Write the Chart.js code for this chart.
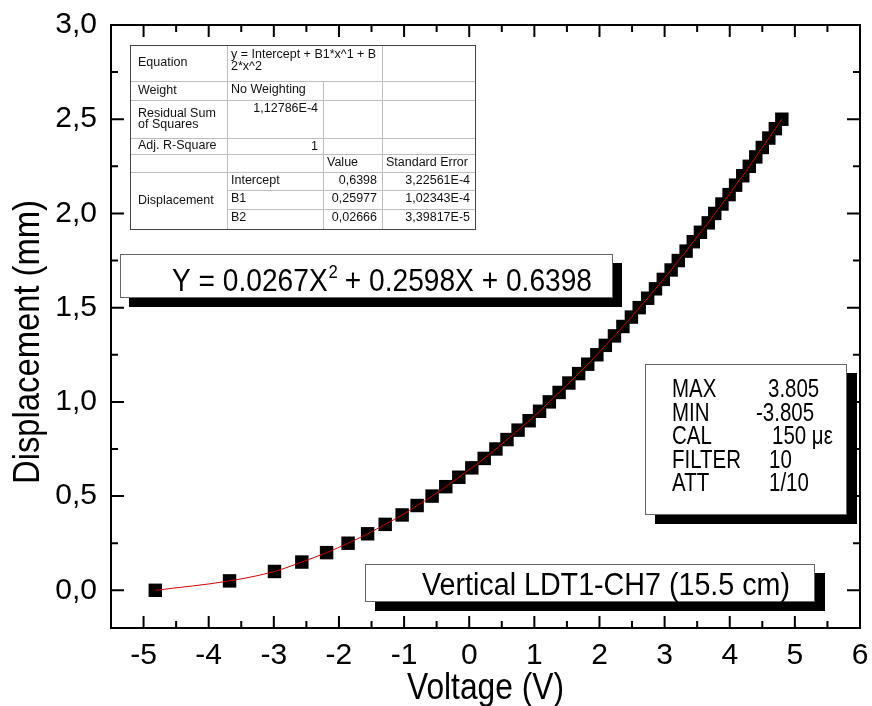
<!DOCTYPE html>
<html>
<head>
<meta charset="utf-8">
<script src="https://cdn.jsdelivr.net/npm/chart.js@4"></script>
<style>
html,body{margin:0;padding:0;background:#fff}
#wrap{width:872px;height:706px}
</style>
</head>
<body>
<div id="wrap"><canvas id="c" width="872" height="706"></canvas></div>
<script>
// measured points (V, mm)
const voltage = [-4.82,-3.68,-2.99,-2.57,-2.19,-1.86,-1.56,-1.29,-1.03,-0.80,-0.57,-0.36,-0.16,0.04,0.23,0.41,0.58,0.75,0.92,1.08,1.23,1.38,1.53,1.68,1.82,1.96,2.09,2.23,2.36,2.49,2.61,2.74,2.86,2.98,3.10,3.21,3.33,3.44,3.55,3.67,3.77,3.88,3.99,4.09,4.20,4.30,4.40,4.50,4.60,4.70,4.80];
const displacement = [0,0.05,0.10,0.15,0.20,0.25,0.30,0.35,0.40,0.45,0.50,0.55,0.60,0.65,0.70,0.75,0.80,0.85,0.90,0.95,1.00,1.05,1.10,1.15,1.20,1.25,1.30,1.35,1.40,1.45,1.50,1.55,1.60,1.65,1.70,1.75,1.80,1.85,1.90,1.95,2.00,2.05,2.10,2.15,2.20,2.25,2.30,2.35,2.40,2.45,2.50];

const xTicks = [-5,-4,-3,-2,-1,0,1,2,3,4,5,6];
const yTicks = [0,0.5,1.0,1.5,2.0,2.5,3.0];
const xTitle = 'Voltage (V)';
const yTitle = 'Displacement (mm)';

const fitRows = [
  ['Equation', 'y = Intercept + B1*x^1 + B\n2*x^2', '', ''],
  ['Weight', 'No Weighting', '', ''],
  ['Residual Sum\nof Squares', '1,12786E-4', '', ''],
  ['Adj. R-Square', '1', '', ''],
  ['', '', 'Value', 'Standard Error'],
  ['Displacement', 'Intercept', '0,6398', '3,22561E-4'],
  ['', 'B1', '0,25977', '1,02343E-4'],
  ['', 'B2', '0,02666', '3,39817E-5']
];
const eqParts = ['Y = 0.0267X', '2', ' + 0.2598X + 0.6398'];
const infoLabels = ['MAX', 'MIN', 'CAL', 'FILTER', 'ATT'];
const infoValues = ['3.805', '-3.805', '150 \u03bc\u03b5', '10', '1/10'];
const sensorLabel = 'Vertical LDT1-CH7 (15.5 cm)';

const SANS = "'Liberation Sans', Arial, sans-serif";

const points = voltage.map((v,i)=>({x:v, y:displacement[i]}));

function txt(ctx, s, x, y, sx){
  ctx.save(); ctx.translate(x,y); ctx.scale(sx,1); ctx.fillText(s,0,0); ctx.restore();
}
function shadowBox(ctx, x1, y1, x2, y2, dx, dy){
  ctx.fillStyle = '#000';
  ctx.fillRect(x1+dx, y1+dy, x2-x1, y2-y1);
  ctx.fillStyle = '#fff';
  ctx.fillRect(x1, y1, x2-x1, y2-y1);
  ctx.strokeStyle = '#666'; ctx.lineWidth = 1;
  ctx.strokeRect(x1+0.5, y1+0.5, x2-x1-1, y2-y1-1);
}

const framePlugin = {
  id:'frame',
  beforeDatasetsDraw(chart){
    const {ctx, chartArea:a, scales:{x, y}} = chart;
    ctx.save();
    ctx.strokeStyle = '#000'; ctx.lineWidth = 2;
    ctx.beginPath();
    xTicks.forEach(v=>{
      [[v,12],[v+0.5,7]].forEach(([t,len])=>{
        if (t <= x.min || t >= x.max) return;
        const px = x.getPixelForValue(t);
        ctx.moveTo(px, a.bottom); ctx.lineTo(px, a.bottom-len);
        ctx.moveTo(px, a.top); ctx.lineTo(px, a.top+len);
      });
    });
    yTicks.forEach(v=>{
      [[v,13],[v+0.25,7]].forEach(([t,len])=>{
        if (t <= y.min || t >= y.max) return;
        const py = y.getPixelForValue(t);
        ctx.moveTo(a.left, py); ctx.lineTo(a.left+len, py);
        ctx.moveTo(a.right, py); ctx.lineTo(a.right-len, py);
      });
    });
    ctx.stroke();
    ctx.strokeRect(a.left, a.top, a.right-a.left, a.bottom-a.top);

    // axis titles, condensed like the original export
    ctx.fillStyle = '#000';
    ctx.font = '37px ' + SANS;
    ctx.textBaseline = 'alphabetic';
    ctx.textAlign = 'left';
    let w = ctx.measureText(xTitle).width;
    txt(ctx, xTitle, (a.left+a.right)/2 - 157/2, 699, 157/w);
    w = ctx.measureText(yTitle).width;
    ctx.save();
    ctx.translate(39, 342 + 284/2);
    ctx.rotate(-Math.PI/2);
    ctx.scale(284/w, 1);
    ctx.fillText(yTitle, 0, 0);
    ctx.restore();
    ctx.restore();
  },
  afterDraw(chart){
    const ctx = chart.ctx;
    ctx.save();

    // fit result table
    const cx = [130, 227, 323, 382, 475];
    const ry = [45, 81, 100, 138, 154, 172, 190, 209, 229];
    ctx.fillStyle = '#fff';
    ctx.fillRect(cx[0], ry[0], cx[4]-cx[0], ry[8]-ry[0]);
    ctx.strokeStyle = '#bdbdbd'; ctx.lineWidth = 1;
    ctx.beginPath();
    for (let r=1; r<8; r++){
      const start = (r===6 || r===7) ? cx[1] : cx[0];
      ctx.moveTo(start, ry[r]+0.5); ctx.lineTo(cx[4], ry[r]+0.5);
    }
    ctx.moveTo(cx[1]+0.5, ry[0]); ctx.lineTo(cx[1]+0.5, ry[8]);
    ctx.moveTo(cx[2]+0.5, ry[1]); ctx.lineTo(cx[2]+0.5, ry[8]);
    ctx.moveTo(cx[3]+0.5, ry[0]); ctx.lineTo(cx[3]+0.5, ry[8]);
    ctx.stroke();
    ctx.strokeStyle = '#444';
    ctx.strokeRect(cx[0]+0.5, ry[0]+0.5, cx[4]-cx[0], ry[8]-ry[0]);

    ctx.fillStyle = '#111';
    ctx.font = '12.5px ' + SANS;
    ctx.textBaseline = 'middle';
    fitRows.forEach((row, r)=>{
      row.forEach((cell, c)=>{
        if (!cell) return;
        const lines = cell.split('\n');
        let yc;
        if (c === 0) {
          yc = r === 5 ? (ry[5]+ry[8])/2 : (ry[r]+ry[r+1])/2;
          yc -= (lines.length-1)*5.5;
        } else {
          yc = ry[r] + (lines.length > 1 ? 10 : 8.5);
        }
        const right = (c===1 && (r===2 || r===3)) || (c>=2 && r>=5);
        ctx.textAlign = right ? 'right' : 'left';
        const xx = right ? cx[c+1]-5 : cx[c] + (c===0 ? 8 : 4);
        lines.forEach((ln,i)=>ctx.fillText(ln, xx, yc + i*11.5));
      });
    });

    // equation box
    shadowBox(ctx, 120, 254, 613, 298, 9, 9);
    ctx.fillStyle = '#000';
    ctx.textAlign = 'left'; ctx.textBaseline = 'alphabetic';
    const eqFont = '32px ' + SANS, supFont = '19px ' + SANS;
    ctx.font = eqFont; const w1 = ctx.measureText(eqParts[0]).width, w3 = ctx.measureText(eqParts[2]).width;
    ctx.font = supFont; const w2 = ctx.measureText(eqParts[1]).width;
    const es = 420/(w1+w2+w3);
    ctx.save(); ctx.translate(172, 291); ctx.scale(es,1);
    ctx.font = eqFont; ctx.fillText(eqParts[0], 0, 0);
    ctx.font = supFont; ctx.fillText(eqParts[1], w1+1, -13);
    ctx.font = eqFont; ctx.fillText(eqParts[2], w1+w2, 0);
    ctx.restore();

    // instrument settings box
    shadowBox(ctx, 645, 364, 847, 515, 10, 9);
    ctx.fillStyle = '#000';
    ctx.font = '25px ' + SANS;
    const is = 69/ctx.measureText('FILTER').width;
    const valX = [768, 756, 772, 769, 769];
    infoLabels.forEach((l,i)=>{
      const by = 397 + i*23.5;
      txt(ctx, l, 672, by, is);
      txt(ctx, infoValues[i], valX[i], by, is);
    });

    // sensor label box
    shadowBox(ctx, 365, 564, 815, 602, 10, 9);
    ctx.fillStyle = '#000';
    ctx.font = '31px ' + SANS;
    txt(ctx, sensorLabel, 422, 595, 368/ctx.measureText(sensorLabel).width);

    ctx.restore();
  }
};

new Chart(document.getElementById('c'), {
  type: 'scatter',
  data: {
    datasets: [
      {
        label: 'Fit',
        data: points,
        showLine: true,
        borderColor: '#d40000',
        borderWidth: 1,
        pointRadius: 0,
        cubicInterpolationMode: 'monotone',
        order: 0
      },
      {
        label: 'Displacement',
        data: points,
        pointStyle: 'rect',
        pointRadius: 9.5,
        pointBackgroundColor: '#000',
        pointBorderWidth: 0,
        order: 1
      }
    ]
  },
  options: {
    responsive: false,
    animation: false,
    layout: { padding: { top: 25, right: 12, left: 0, bottom: 0 } },
    plugins: { legend: { display: false }, tooltip: { enabled: false } },
    scales: {
      x: {
        type: 'linear', min: -5.5, max: 6,
        afterBuildTicks: s => { s.ticks = xTicks.map(v=>({value:v})); },
        afterFit: s => { s.height = 78; s.paddingLeft = 0; s.paddingRight = 0; },
        grid: { display: false, drawTicks: false },
        border: { display: false },
        ticks: { color: '#000', padding: 10, maxRotation: 0, font: { family: SANS, size: 30 } }
      },
      y: {
        type: 'linear', min: -0.2, max: 3.0,
        afterBuildTicks: s => { s.ticks = yTicks.map(v=>({value:v})); },
        afterFit: s => { s.width = 111; s.paddingTop = 0; s.paddingBottom = 0; },
        grid: { display: false, drawTicks: false },
        border: { display: false },
        ticks: { color: '#000', padding: 14, font: { family: SANS, size: 30 },
          callback: v => v.toFixed(1).replace('.', ',') }
      }
    }
  },
  plugins: [framePlugin]
});
</script>
</body>
</html>
